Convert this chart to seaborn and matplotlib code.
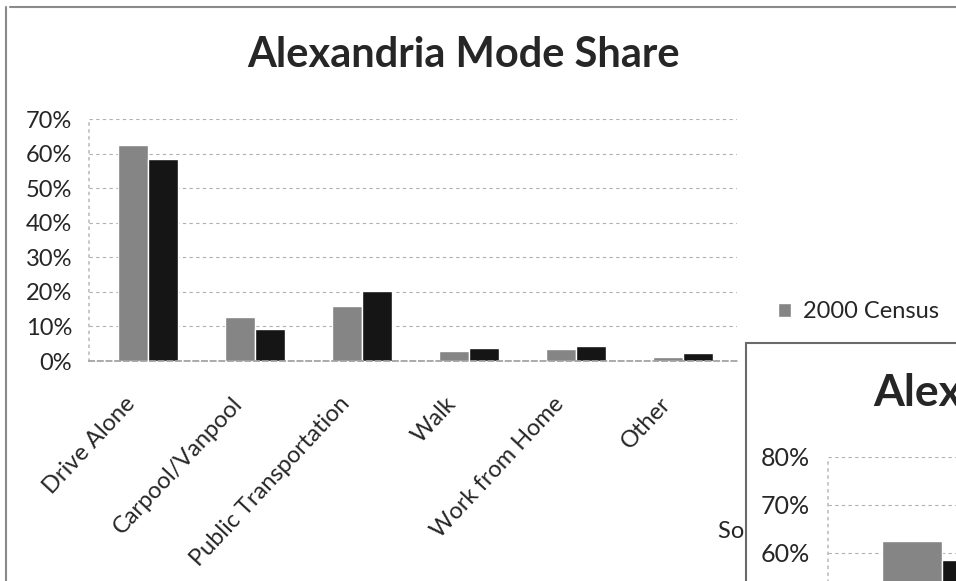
import pandas as pd
import seaborn as sns
import matplotlib.pyplot as plt
from matplotlib.lines import Line2D
from matplotlib.patches import Patch, Rectangle
from matplotlib.transforms import ScaledTranslation

# Data (percent of commuters)
modes = ['Drive Alone', 'Carpool/Vanpool', 'Public Transportation', 'Walk', 'Work from Home', 'Other']
census_2000 = [62.4, 12.8, 16.0, 2.9, 3.4, 1.1]
later_survey = [58.5, 9.4, 20.3, 3.7, 4.4, 2.4]
series_names = ['2000 Census', 'Later Survey']
main_ticks = [0, 10, 20, 30, 40, 50, 60, 70]
inset_ticks = [60, 70, 80]

df = pd.DataFrame({
    'Mode': modes * 2,
    'Share': census_2000 + later_survey,
    'Series': [series_names[0]] * len(modes) + [series_names[1]] * len(modes),
})
palette = {series_names[0]: '#858585', series_names[1]: '#151515'}

sns.set_theme(style='white')
plt.rcParams['font.family'] = ['Lato', 'DejaVu Sans']

W, H = 956, 581
fig = plt.figure(figsize=(W / 100, H / 100), dpi=100)


def box(x0, y0, x1, y1):
    # pixel box (top-left origin) -> figure fraction rect
    return [x0 / W, 1 - y1 / H, (x1 - x0) / W, (y1 - y0) / H]


# Main chart
ax = fig.add_axes(box(89, 119, 737, 361))
sns.barplot(data=df, x='Mode', y='Share', hue='Series', palette=palette,
            width=0.56, gap=0, saturation=1, legend=False, ax=ax)
ax.set_xlim(-0.55, 5.5)
ax.set_ylim(0, 70)
ax.set_yticks(main_ticks)
ax.set_yticklabels([f'{t}%' for t in main_ticks], fontsize=17)
ax.tick_params(axis='y', pad=12, length=0)
ax.tick_params(axis='x', pad=10, length=0)
ax.set_xticks(range(len(modes)))
ax.set_xticklabels(modes, rotation=47, ha='right', rotation_mode='anchor', fontsize=17)
# nudge the slanted category labels down and to the left
shift = ScaledTranslation(-24 / 100, -18 / 100, fig.dpi_scale_trans)
for lab in ax.get_xticklabels():
    lab.set_transform(lab.get_transform() + shift)
ax.set_xlabel('')
ax.set_ylabel('')
ax.grid(axis='y', color='#b0b0b0', linestyle=(0, (3, 3)), linewidth=0.8)
ax.set_axisbelow(True)
for s in ['top', 'right']:
    ax.spines[s].set_visible(False)
ax.spines['left'].set_color('#c0c0c0')
ax.spines['left'].set_linestyle((0, (1, 3)))
ax.spines['bottom'].set_color('#a0a0a0')
ax.spines['bottom'].set_linestyle((0, (3, 2)))

fig.text(464 / W, 1 - 55 / H, 'Alexandria Mode Share', ha='center', va='center',
         fontsize=30, weight='bold')

fig.legend(handles=[Patch(facecolor=palette[series_names[0]], label=series_names[0])],
           loc='center left', bbox_to_anchor=(778 / W, 1 - 312 / H), frameon=False,
           fontsize=17, handlelength=0.55, handleheight=0.55, handletextpad=0.5,
           borderpad=0, borderaxespad=0)

fig.text(718 / W, 1 - 532 / H, 'Source: U.S. Census Bureau', fontsize=17, va='center')

# Outer frame of the scanned page
fig.add_artist(Line2D([10 / W, 1], [1 - 7 / H, 1 - 7 / H], color='#8a8a8a', lw=1.5))
fig.add_artist(Line2D([6 / W, 6 / W], [0, 1 - 7 / H], color='#8a8a8a', lw=1.5))

# Second copy of the chart pasted over the bottom right corner
fig.add_artist(Rectangle((746 / W, -0.1), 1, 1.1 - 343 / H, transform=fig.transFigure,
                         facecolor='white', edgecolor='#6a6a6a', lw=1.5, zorder=10))
fig.text(873 / W, 1 - 393 / H, 'Alexandria Mode Share', ha='left', va='center',
         fontsize=32, weight='bold', zorder=12)

ax2 = fig.add_axes(box(828, 457, 828 + 6 * 228, 841), zorder=11)
sns.barplot(data=df, x='Mode', y='Share', hue='Series', palette=palette,
            width=0.526, gap=0, saturation=1, legend=False, ax=ax2)
ax2.set_xlim(-0.5, 5.5)
ax2.set_ylim(0, 80)
ax2.set_yticks(inset_ticks)
ax2.set_yticklabels([f'{t}%' for t in inset_ticks], fontsize=18)
ax2.tick_params(axis='y', pad=13, length=0)
ax2.set_xticks([])
ax2.set_xlabel('')
ax2.set_ylabel('')
ax2.grid(axis='y', color='#b0b0b0', linestyle=(0, (3, 3)), linewidth=0.8)
ax2.set_axisbelow(True)
for s in ['top', 'right', 'bottom']:
    ax2.spines[s].set_visible(False)
ax2.spines['left'].set_color('#c0c0c0')
ax2.spines['left'].set_linestyle((0, (1, 3)))

fig.savefig('out.png', dpi=100)
